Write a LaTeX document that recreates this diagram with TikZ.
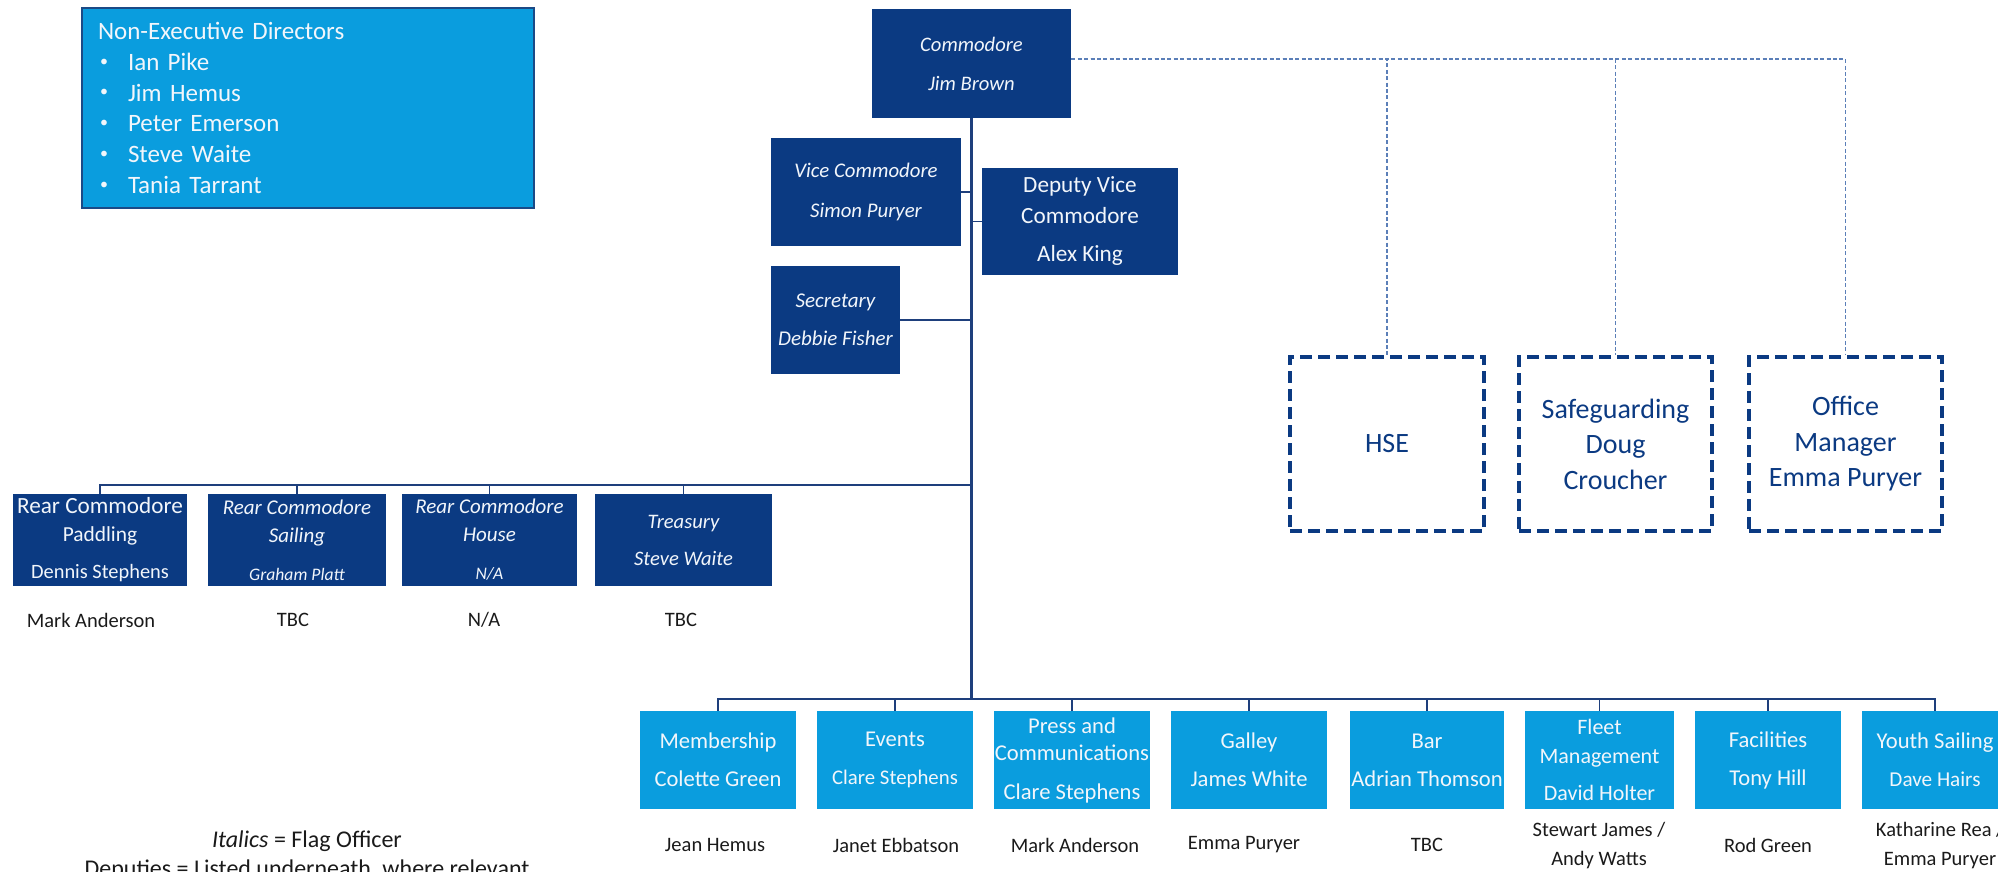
\documentclass[tikz,border=0pt]{standalone}
\usepackage{fontspec}
\setmainfont{Carlito}
\definecolor{navy}{HTML}{0B3A82}
\definecolor{sky}{HTML}{0A9DDE}
\definecolor{nedborder}{HTML}{1B4A86}
\definecolor{linenavy}{HTML}{1E3F7C}
\definecolor{dashblue}{HTML}{5B7FB8}
\definecolor{txtdark}{HTML}{1A1A1A}
\definecolor{boxwhite}{HTML}{F2F6FB}
\newcommand{\nedbullet}{\makebox[15pt][l]{\hspace{1pt}\raisebox{0.35ex}{\fontsize{8}{8}\selectfont •}}}
\begin{document}
\begin{tikzpicture}[x=0.5pt,y=-0.5pt,
  darkbox/.style={fill=navy, text=boxwhite, inner sep=0pt, align=center},
  lightbox/.style={fill=sky, text=boxwhite, inner sep=0pt, align=center,
     minimum height=49pt, font=\fontsize{11.3}{19}\selectfont},
  dashbox/.style={draw=navy, line width=2pt, dash pattern=on 6pt off 3pt, text=navy,
     inner sep=0pt, align=center, minimum height=87pt, font=\fontsize{14}{17.75}\selectfont},
  dep/.style={text=txtdark, align=center, inner sep=0pt, font=\fontsize{10.25}{14.5}\selectfont},
  conn/.style={draw=linenavy, line width=0.8pt},
  trunkline/.style={draw=linenavy, line width=1.1pt},
  dotconn/.style={draw=dashblue, line width=0.6pt, dash pattern=on 2pt off 1.2pt},
  sz/.style 2 args={minimum width=#1pt, minimum height=#2pt}
]
\useasboundingbox (0,0) rectangle (1998,872);
\clip (0,0) rectangle (1998,872);

% Non-executive directors
\node[fill=sky, draw=nedborder, line width=0.8pt, minimum width=226pt, minimum height=100pt,
      text width=210pt, inner xsep=8pt, inner ysep=0pt, align=left, text=boxwhite,
      font=\fontsize{12.5}{15.4}\selectfont] (ned) at (308,108)
  {Non-Executive Directors\\
   \nedbullet Ian Pike\\
   \nedbullet Jim Hemus\\
   \nedbullet Peter Emerson\\
   \nedbullet Steve Waite\\
   \nedbullet Tania Tarrant};

% Top officers
\node[darkbox, sz={99.5}{54.5}, font=\itshape\fontsize{10.3}{19.5}\selectfont] (comm) at (971.5,63.5)
  {Commodore\\Jim Brown};
\node[darkbox, sz={95}{54}, font=\itshape\fontsize{10.4}{20}\selectfont] (vice) at (866,192)
  {Vice Commodore\\Simon Puryer};
\node[darkbox, sz={98}{53.5}, font=\fontsize{11.6}{15.5}\selectfont] (dvc) at (1080,221.5)
  {Deputy Vice\\Commodore\\[3.5pt]Alex King};
\node[darkbox, sz={64.5}{54}, font=\itshape\fontsize{10.5}{19}\selectfont] (sec) at (835.5,320)
  {Secretary\\Debbie Fisher};

% Rear commodores
\node[darkbox, sz={87}{46}, font=\fontsize{11.6}{14}\selectfont] (padd) at (100,540)
  {Rear Commodore\\{\fontsize{10.7}{14}\selectfont Paddling}\\[4.5pt]{\fontsize{10.2}{14}\selectfont Dennis Stephens}};
\node[darkbox, sz={89}{46}, font=\itshape\fontsize{10.5}{14}\selectfont] (sail) at (297,540)
  {Rear Commodore\\Sailing\\[5pt]{\fontsize{8.8}{14}\selectfont Graham Platt}};
\node[darkbox, sz={87.5}{46}, font=\itshape\fontsize{10.5}{14}\selectfont] (house) at (489.5,540)
  {Rear Commodore\\House\\[5pt]{\fontsize{8.8}{14}\selectfont N/A}};
\node[darkbox, sz={88.5}{46}, font=\itshape\fontsize{10.3}{18.5}\selectfont] (treas) at (683.5,540)
  {Treasury\\Steve Waite};

% Dashed advisory boxes
\node[dashbox, minimum width=97pt] (hse) at (1387,444) {HSE};
\node[dashbox, minimum width=96.5pt] (safe) at (1615.5,444) {Safeguarding\\Doug\\Croucher};
\node[dashbox, minimum width=96.5pt] (office) at (1845.5,444) {Office\\Manager\\Emma Puryer};

% Committee boxes
\node[lightbox, minimum width=78pt] (memb) at (718,760) {Membership\\Colette Green};
\node[lightbox, minimum width=78pt] (events) at (895,760) {Events\\{\fontsize{10.4}{19}\selectfont Clare Stephens}};
\node[lightbox, minimum width=78pt, font=\fontsize{11.3}{13.5}\selectfont] (press) at (1072,760)
  {Press and\\Communications\\[6pt]Clare Stephens};
\node[lightbox, minimum width=78pt] (galley) at (1249,760) {Galley\\James White};
\node[lightbox, minimum width=77pt] (bar) at (1427,760) {Bar\\Adrian Thomson};
\node[lightbox, minimum width=74.5pt, font=\fontsize{11}{14.5}\selectfont] (fleet) at (1599.5,760)
  {Fleet\\Management\\[4pt]David Holter};
\node[lightbox, minimum width=73pt] (fac) at (1768,760) {Facilities\\Tony Hill};
\node[lightbox, minimum width=73pt] (youth) at (1935,760) {Youth Sailing\\{\fontsize{10.6}{19}\selectfont Dave Hairs}};

% Deputies
\node[dep] (dpadd) at (91,620) {Mark Anderson};
\node[dep] (dsail) at (293,620) {TBC};
\node[dep] (dhouse) at (484,620) {N/A};
\node[dep] (dtreas) at (681,620) {TBC};
\node[dep] (dmemb) at (715,845) {Jean Hemus};
\node[dep] (devents) at (896,845) {Janet Ebbatson};
\node[dep] (dpress) at (1075,845) {Mark Anderson};
\node[dep] (dgalley) at (1244,845) {Emma Puryer};
\node[dep] (dbar) at (1427,845) {TBC};
\node[dep] (dfleet) at (1599,845.5) {Stewart James /\\Andy Watts};
\node[dep] (dfac) at (1768,845) {Rod Green};
\node[dep] (dyouth) at (1940,845.5) {Katharine Rea /\\Emma Puryer};

% Legend
\node[text=txtdark, align=center, inner sep=0pt, font=\fontsize{12}{14.5}\selectfont] (legend) at (307,855.5)
  {\textit{Italics} = Flag Officer\\Deputies = Listed underneath, where relevant};

% Connectors
\coordinate (tB) at (971.5,699);
\coordinate (tR) at (971.5,485);
\draw[trunkline] (comm.south) -- (tB);
\foreach \n in {memb,events,press,galley,bar,fleet,fac,youth}
  \draw[conn] (tB) -| (\n.north);
\foreach \n in {padd,sail,house,treas}
  \draw[conn] (tR) -| (\n.north);
\draw[conn] (vice.east) -- (vice.east -| comm.south);
\draw[conn] (dvc.west) -- (dvc.west -| comm.south);
\draw[conn] (sec.east) -- (sec.east -| comm.south);
\coordinate (cE) at ([yshift=2.25pt]comm.east);
\foreach \n in {hse,safe,office}
  \draw[dotconn] (cE) -| (\n.north);
\end{tikzpicture}
\end{document}
